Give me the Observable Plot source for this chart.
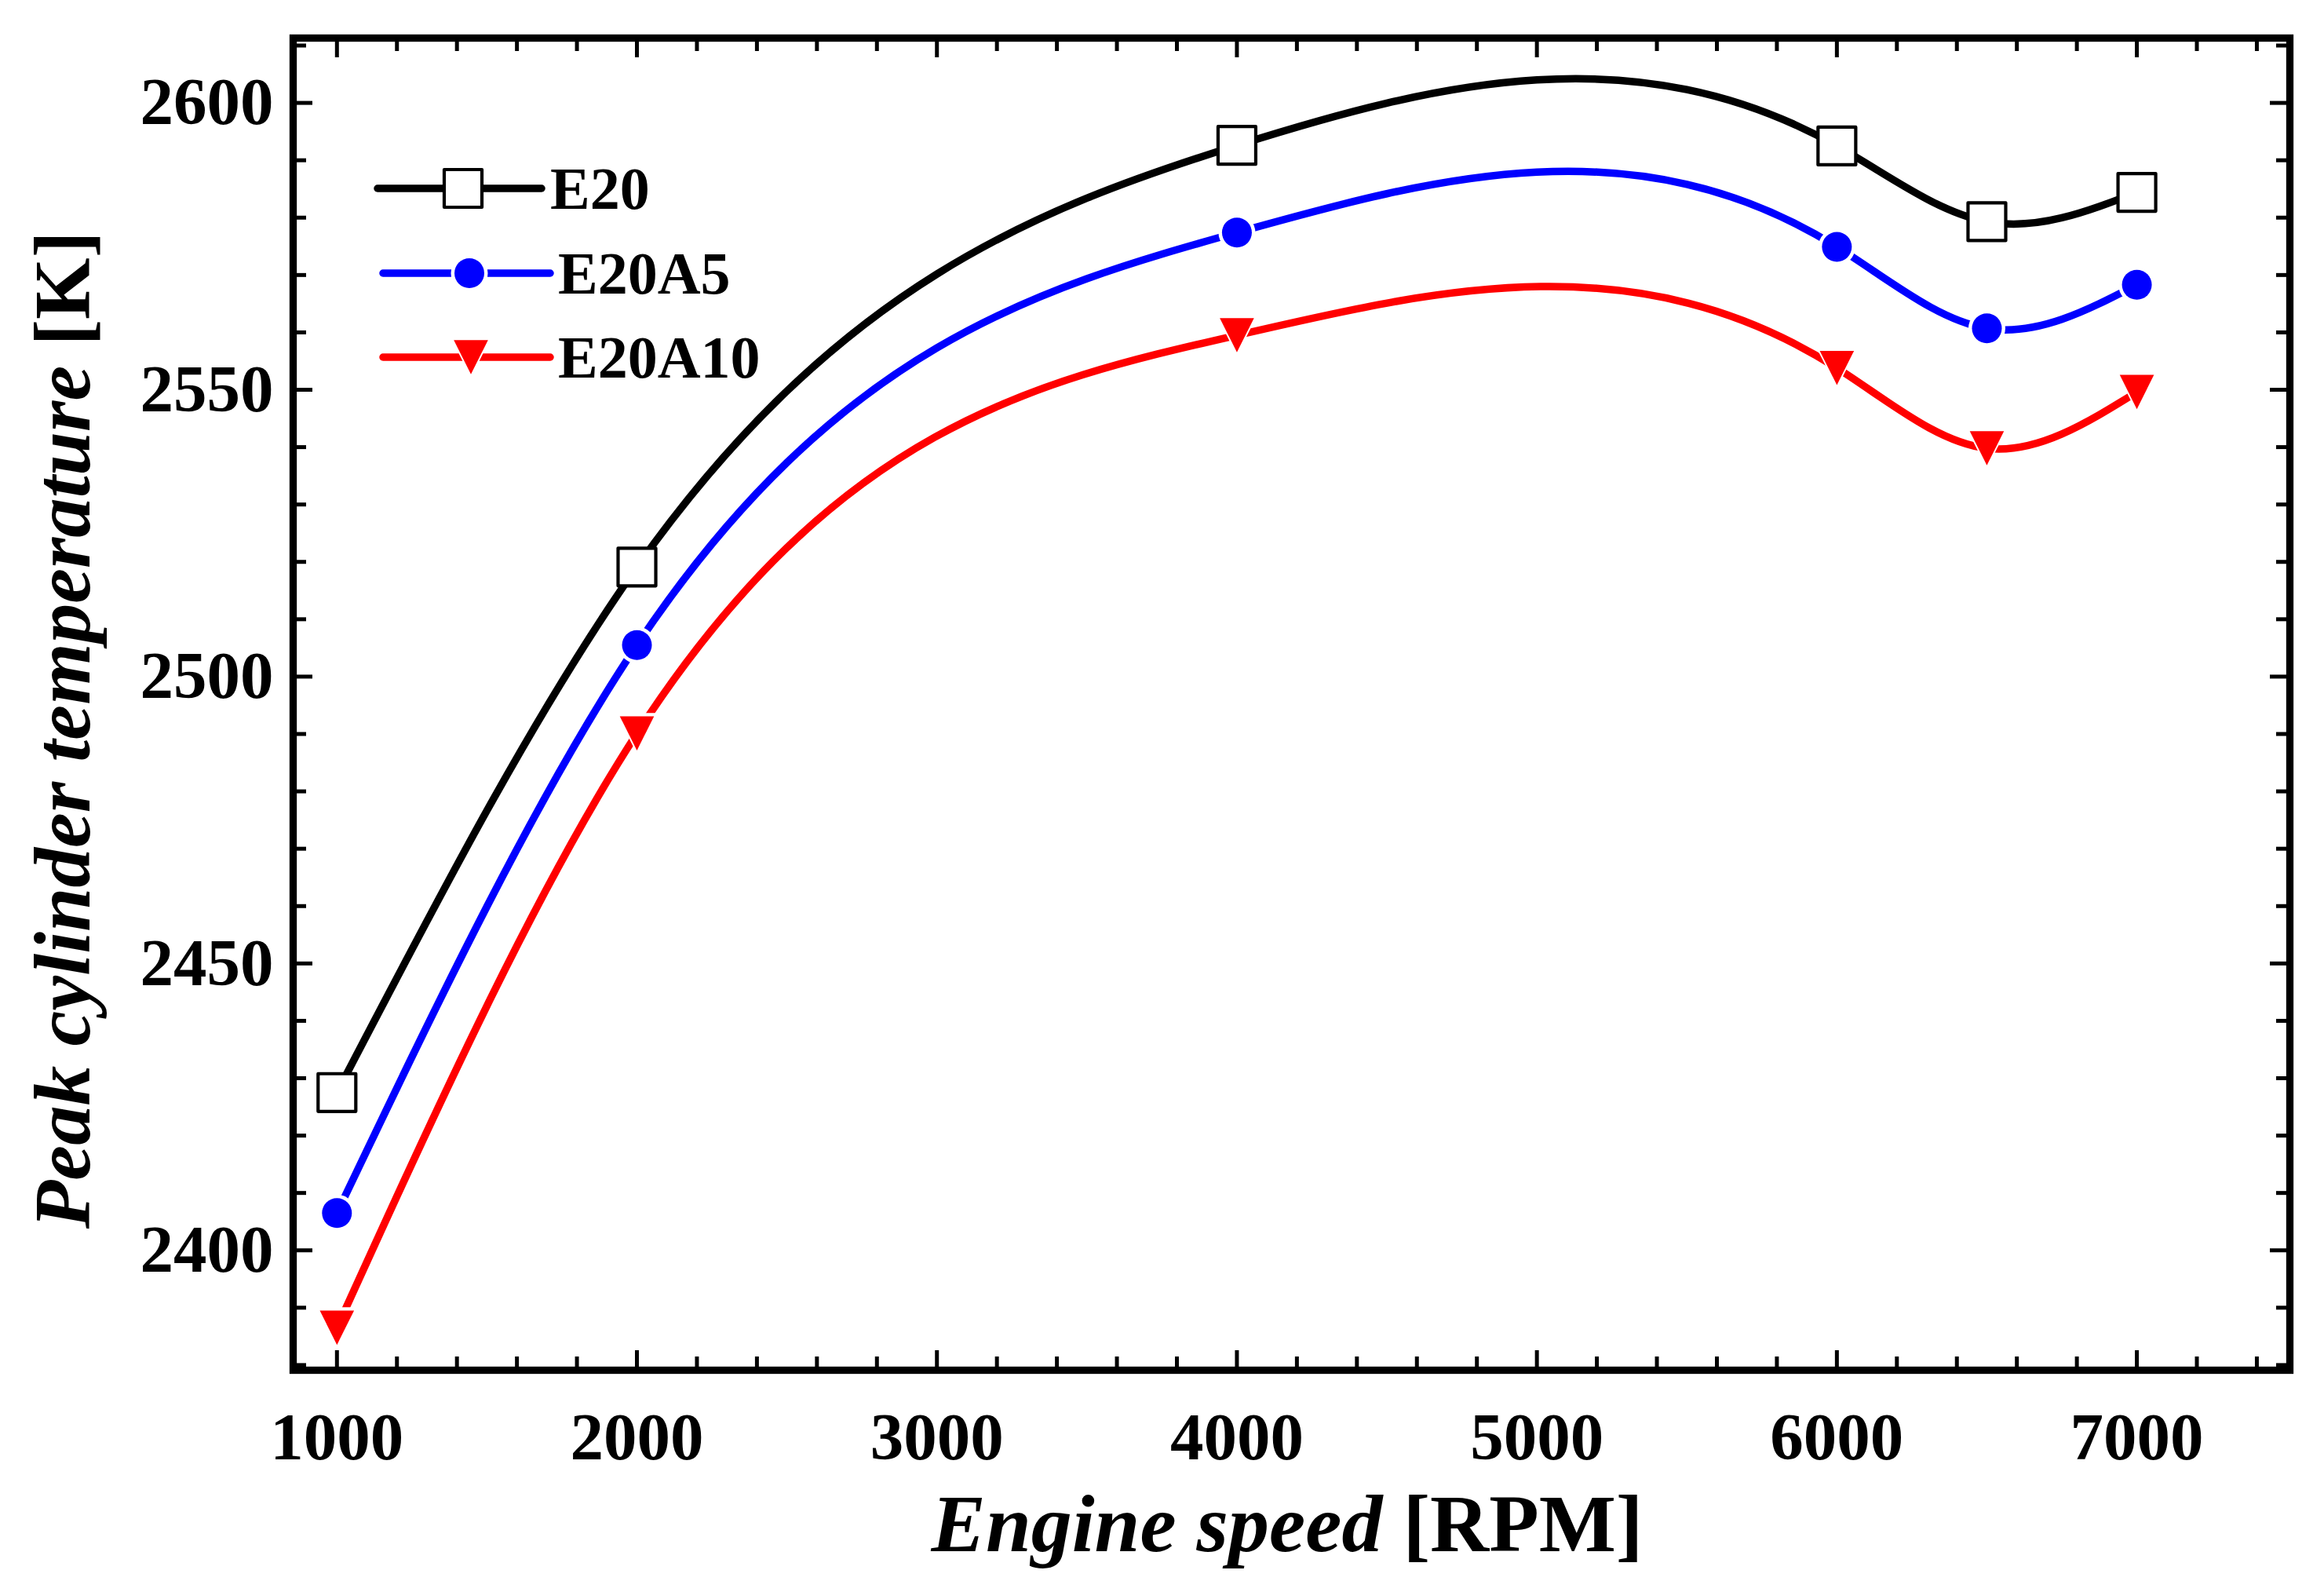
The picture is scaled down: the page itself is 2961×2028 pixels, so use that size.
<!DOCTYPE html>
<html>
<head>
<meta charset="utf-8">
<script src="https://cdn.jsdelivr.net/npm/d3@7"></script>
<script src="https://cdn.jsdelivr.net/npm/@observablehq/plot@0.6"></script>
<style>
  html, body { margin: 0; padding: 0; background: #fff; }
  #grafico { width: 2961px; height: 2028px; }
</style>
</head>
<body>
<div id="grafico"></div>
<script>
// Velocidades del motor (eje x) y temperatura pico en cilindro por mezcla
const rpm = [1000, 2000, 4000, 6000, 6500, 7000];
const tempE20 = [2427.5, 2519.1, 2592.6, 2592.5, 2579.3, 2584.4];
const tempE20A5 = [2406.5, 2505.5, 2577.4, 2574.9, 2560.7, 2568.3];
const tempE20A10 = [2386.5, 2490.1, 2559.5, 2553.8, 2539.8, 2549.6];

const series = ["E20", "E20A5", "E20A10"];
const colores = ["#000000", "#0000ff", "#ff0000"];

const xTicks = [1000, 2000, 3000, 4000, 5000, 6000, 7000];
const xMinor = [1200, 1400, 1600, 1800, 2200, 2400, 2600, 2800, 3200, 3400, 3600, 3800,
  4200, 4400, 4600, 4800, 5200, 5400, 5600, 5800, 6200, 6400, 6600, 6800, 7200, 7400];
const yTicks = [2400, 2450, 2500, 2550, 2600];
const yMinor = [2380, 2390, 2410, 2420, 2430, 2440, 2460, 2470, 2480, 2490, 2510, 2520,
  2530, 2540, 2560, 2570, 2580, 2590, 2610];

const filas = [];
[tempE20, tempE20A5, tempE20A10].forEach((vals, k) => {
  vals.forEach((t, i) => filas.push({ serie: series[k], rpm: rpm[i], temp: t }));
});

// spline cúbica natural en función de x (como el "Spline" de Origin)
function SplineX(context) { this._context = context; }
SplineX.prototype = {
  areaStart() {}, areaEnd() {},
  lineStart() { this._xs = []; this._ys = []; },
  point(x, y) { this._xs.push(+x); this._ys.push(+y); },
  lineEnd() {
    const xs = this._xs, ys = this._ys, n = xs.length, c = this._context;
    if (!n) return;
    c.moveTo(xs[0], ys[0]);
    if (n < 3) { for (let i = 1; i < n; i++) c.lineTo(xs[i], ys[i]); return; }
    const h = [];
    for (let i = 0; i < n - 1; i++) h.push(xs[i + 1] - xs[i]);
    const a = [], b = [], cc = [], d = [];
    for (let i = 1; i < n - 1; i++) {
      a.push(h[i - 1]); b.push(2 * (h[i - 1] + h[i])); cc.push(h[i]);
      d.push(6 * ((ys[i + 1] - ys[i]) / h[i] - (ys[i] - ys[i - 1]) / h[i - 1]));
    }
    const m = b.length;
    for (let i = 1; i < m; i++) {
      const w = a[i] / b[i - 1];
      b[i] -= w * cc[i - 1];
      d[i] -= w * d[i - 1];
    }
    const sol = new Array(m);
    sol[m - 1] = d[m - 1] / b[m - 1];
    for (let i = m - 2; i >= 0; i--) sol[i] = (d[i] - cc[i] * sol[i + 1]) / b[i];
    const M = [0, ...sol, 0];
    for (let i = 0; i < n - 1; i++) {
      const hi = h[i], dy = (ys[i + 1] - ys[i]) / hi;
      const s0 = dy - hi * (2 * M[i] + M[i + 1]) / 6;
      const s1 = dy + hi * (M[i] + 2 * M[i + 1]) / 6;
      c.bezierCurveTo(xs[i] + hi / 3, ys[i] + s0 * hi / 3,
                      xs[i + 1] - hi / 3, ys[i + 1] - s1 * hi / 3,
                      xs[i + 1], ys[i + 1]);
    }
  }
};
const curvaSpline = (context) => new SplineX(context);

// triángulo hacia abajo centrado en su caja
const trianguloAbajo = {
  draw(ctx, size) {
    const s = Math.sqrt(size);
    ctx.moveTo(-s / 2, -s / 2);
    ctx.lineTo(s / 2, -s / 2);
    ctx.lineTo(0, s / 2);
    ctx.closePath();
  }
};

const W = 2961, H = 2028;
const mL = 373, mR = 44, mT = 48, mB = 283;
const altoPanel = H - mT - mB, anchoPanel = W - mL - mR;
const FUENTE = "'Liberation Serif', 'Times New Roman', Times, serif";
const GROSOR = 9.5;

// tamaños de marcador (r de Plot: lado = r·√π)
const R_CUAD = 27.1, R_CIRC = 19, R_CIRC_HALO = 23.5, R_TRI = 24.6, R_TRI_HALO = 29.5;

const tickOpts = { stroke: "#000", strokeWidth: 5 };

const chart = Plot.plot({
  width: W,
  height: H,
  marginLeft: mL,
  marginRight: mR,
  marginTop: mT,
  marginBottom: mB,
  style: {
    background: "#fff",
    color: "#000",
    fontFamily: FUENTE,
    fontWeight: "bold",
    fontSize: "85px",
    overflow: "visible",
  },
  x: { domain: [854, 7510], label: null },
  y: { domain: [2379.1, 2611.3], label: null },
  color: { domain: series, range: colores },
  marks: [
    Plot.axisX(xTicks, { anchor: "bottom", tickSize: 0, tickPadding: 53, fontSize: 85,
      fontWeight: "bold", label: null, tickFormat: (d) => String(d) }),
    Plot.axisY(yTicks, { anchor: "left", tickSize: 0, tickPadding: 25, fontSize: 85,
      fontWeight: "bold", label: null, tickFormat: (d) => String(d) }),
    // ticks hacia dentro en los cuatro lados
    Plot.tickX(xTicks, { x: (d) => d, insetTop: altoPanel - 25, ...tickOpts }),
    Plot.tickX(xTicks, { x: (d) => d, insetBottom: altoPanel - 25, ...tickOpts }),
    Plot.tickX(xMinor, { x: (d) => d, insetTop: altoPanel - 17, ...tickOpts }),
    Plot.tickX(xMinor, { x: (d) => d, insetBottom: altoPanel - 17, ...tickOpts }),
    Plot.tickY(yTicks, { y: (d) => d, insetRight: anchoPanel - 25, ...tickOpts }),
    Plot.tickY(yTicks, { y: (d) => d, insetLeft: anchoPanel - 25, ...tickOpts }),
    Plot.tickY(yMinor, { y: (d) => d, insetRight: anchoPanel - 17, ...tickOpts }),
    Plot.tickY(yMinor, { y: (d) => d, insetLeft: anchoPanel - 17, ...tickOpts }),
    Plot.line(filas, {
      x: "rpm", y: "temp", z: "serie", stroke: "serie",
      strokeWidth: GROSOR, curve: curvaSpline,
    }),
    // halos blancos alrededor de los marcadores rellenos
    Plot.dot(filas.filter((d) => d.serie === "E20A5"), {
      x: "rpm", y: "temp", symbol: "circle", r: R_CIRC_HALO, fill: "#fff",
    }),
    Plot.dot(filas.filter((d) => d.serie === "E20A10"), {
      x: "rpm", y: "temp", symbol: trianguloAbajo, r: R_TRI_HALO, fill: "#fff",
    }),
    Plot.dot(filas.filter((d) => d.serie === "E20"), {
      x: "rpm", y: "temp", symbol: "square", r: R_CUAD,
      fill: "#fff", stroke: "#000", strokeWidth: 4.2, strokeLinejoin: "round",
    }),
    Plot.dot(filas.filter((d) => d.serie === "E20A5"), {
      x: "rpm", y: "temp", symbol: "circle", r: R_CIRC, fill: "#0000ff",
    }),
    Plot.dot(filas.filter((d) => d.serie === "E20A10"), {
      x: "rpm", y: "temp", symbol: trianguloAbajo, r: R_TRI, fill: "#ff0000",
    }),
    Plot.frame({ stroke: "#000", strokeWidth: 9.3 }),
  ],
});

const svg = d3.select(chart);

// títulos de ejes: parte en cursiva + unidad recta
svg.append("text")
  .attr("x", 1640).attr("y", 1976)
  .attr("text-anchor", "middle")
  .attr("font-family", FUENTE).attr("font-weight", "bold").attr("font-size", 104)
  .call((t) => {
    t.append("tspan").attr("font-style", "italic").text("Engine speed");
    t.append("tspan").text(" [RPM]");
  });

svg.append("text")
  .attr("transform", "translate(114,930) rotate(-90)")
  .attr("text-anchor", "middle")
  .attr("font-family", FUENTE).attr("font-weight", "bold").attr("font-size", 101)
  .call((t) => {
    t.append("tspan").attr("font-style", "italic").text("Peak cylinder temperature");
    t.append("tspan").text(" [K]");
  });

// leyenda dentro del panel
const area = (r) => r * r * Math.PI;
const leyenda = [
  { nombre: "E20", color: "#000", y: 240, x1: 481, x2: 690, mx: 590, tx: 701,
    halo: null,
    sym: d3.symbol(d3.symbolSquare, area(R_CUAD)), fill: "#fff", stroke: "#000", sw: 4.2 },
  { nombre: "E20A5", color: "#0000ff", y: 348, x1: 488, x2: 701, mx: 598, tx: 711,
    halo: d3.symbol(d3.symbolCircle, area(R_CIRC_HALO)),
    sym: d3.symbol(d3.symbolCircle, area(R_CIRC)), fill: "#0000ff", stroke: "none", sw: 0 },
  { nombre: "E20A10", color: "#ff0000", y: 455, x1: 488, x2: 701, mx: 600, tx: 711,
    halo: d3.symbol(trianguloAbajo, area(R_TRI_HALO)),
    sym: d3.symbol(trianguloAbajo, area(R_TRI)), fill: "#ff0000", stroke: "none", sw: 0 },
];
const gLey = svg.append("g").attr("text-anchor", "start");
for (const e of leyenda) {
  gLey.append("line")
    .attr("x1", e.x1).attr("x2", e.x2).attr("y1", e.y).attr("y2", e.y)
    .attr("stroke", e.color).attr("stroke-width", GROSOR).attr("stroke-linecap", "round");
  if (e.halo) {
    gLey.append("path").attr("d", e.halo())
      .attr("transform", `translate(${e.mx},${e.y})`).attr("fill", "#fff");
  }
  gLey.append("path")
    .attr("d", e.sym())
    .attr("transform", `translate(${e.mx},${e.y})`)
    .attr("fill", e.fill).attr("stroke", e.stroke).attr("stroke-width", e.sw)
    .attr("stroke-linejoin", "round");
  gLey.append("text")
    .attr("x", e.tx).attr("y", e.y + 26)
    .attr("text-anchor", "start")
    .attr("font-family", FUENTE).attr("font-weight", "bold").attr("font-size", 76)
    .text(e.nombre);
}

document.getElementById("grafico").appendChild(chart);
</script>
</body>
</html>
